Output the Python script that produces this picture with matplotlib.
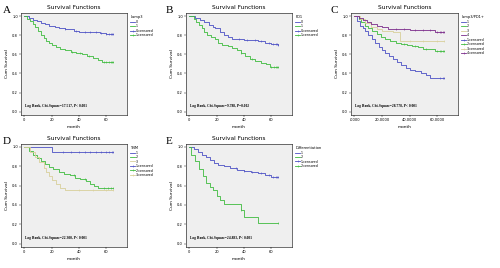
import matplotlib
matplotlib.use('Agg')
import matplotlib.pyplot as plt
import numpy as np

# colours used by the SPSS survival plots
BLUE = '#4b4fc4'
GREEN = '#3dbb3d'
TAN = '#d8cf9a'
PURPLE = '#7a2a8a'

# ---- panel A : Lamp3 ----
a0_t = [0, 3, 6, 9, 12, 15, 18, 22, 25, 30, 36, 40, 55, 60, 65]
a0_s = [1.0, 0.98, 0.96, 0.95, 0.93, 0.92, 0.90, 0.88, 0.87, 0.86, 0.84, 0.83, 0.82, 0.81, 0.81]
a0_c = [30, 38, 44, 48, 52, 56, 60, 62, 63, 64, 65]
a1_t = [0, 2, 4, 6, 8, 10, 12, 14, 16, 18, 20, 23, 26, 30, 34, 38, 42, 46, 50, 54, 57, 65]
a1_s = [1.0, 0.97, 0.95, 0.92, 0.88, 0.84, 0.80, 0.77, 0.74, 0.72, 0.70, 0.68, 0.66, 0.64,
        0.62, 0.61, 0.60, 0.58, 0.56, 0.54, 0.52, 0.52]
a1_c = [35, 41, 47, 58, 60, 62, 63, 64, 65]

# ---- panel B : PD1 ----
b0_t = [0, 4, 8, 11, 14, 17, 19, 22, 25, 28, 31, 40, 50, 55, 60, 65]
b0_s = [1.0, 0.98, 0.96, 0.94, 0.91, 0.89, 0.87, 0.83, 0.80, 0.78, 0.76, 0.75, 0.74, 0.72, 0.71, 0.70]
b0_c = [36, 42, 48, 52, 58, 61, 63, 64, 65]
b1_t = [0, 3, 5, 7, 9, 11, 13, 16, 19, 21, 24, 28, 31, 35, 38, 41, 44, 48, 52, 56, 59, 65]
b1_s = [1.0, 0.97, 0.94, 0.91, 0.87, 0.83, 0.80, 0.78, 0.76, 0.72, 0.70, 0.69, 0.67, 0.64,
        0.61, 0.58, 0.55, 0.53, 0.51, 0.50, 0.47, 0.47]
b1_c = [38, 46, 60, 62, 63, 64, 65]

# ---- panel C : lamp3/PD1+ (4 groups) ----
c1_t = [0, 2, 4, 6, 8, 10, 13, 15, 18, 20, 22, 25, 28, 31, 34, 37, 40, 44, 48, 52, 55, 65]
c1_s = [1.0, 0.95, 0.90, 0.87, 0.84, 0.80, 0.76, 0.72, 0.68, 0.64, 0.61, 0.58, 0.55, 0.52,
        0.49, 0.46, 0.44, 0.42, 0.40, 0.38, 0.35, 0.35]
c1_c = [62, 64, 65]
c2_t = [0, 3, 5, 8, 10, 13, 16, 19, 22, 26, 30, 34, 38, 42, 46, 50, 54, 58, 65]
c2_s = [1.0, 0.97, 0.94, 0.90, 0.87, 0.84, 0.81, 0.78, 0.76, 0.74, 0.72, 0.71, 0.70, 0.69,
        0.68, 0.66, 0.65, 0.63, 0.63]
c2_c = [36, 44, 52, 60, 62, 63, 64, 65]
c3_t = [0, 4, 8, 12, 16, 20, 28, 33, 65]
c3_s = [1.0, 0.97, 0.93, 0.89, 0.86, 0.84, 0.83, 0.74, 0.74]
c3_c = [40, 50, 60, 65]
c4_t = [0, 3, 6, 9, 12, 16, 20, 24, 40, 58, 65]
c4_s = [1.0, 0.98, 0.96, 0.94, 0.92, 0.90, 0.88, 0.86, 0.85, 0.83, 0.83]
c4_c = [30, 36, 44, 50, 55, 60, 62, 63, 64, 65]

# ---- panel D : TNM ----
d1_t = [0, 20, 65]
d1_s = [1.0, 0.95, 0.95]
d1_c = [28, 34, 40, 44, 48, 52, 56, 60, 62, 64, 65]
d2_t = [0, 3, 6, 9, 12, 15, 18, 21, 25, 29, 33, 37, 41, 45, 48, 51, 54, 65]
d2_s = [1.0, 0.96, 0.92, 0.88, 0.85, 0.82, 0.79, 0.77, 0.74, 0.72, 0.71, 0.68, 0.67, 0.65,
        0.62, 0.60, 0.57, 0.57]
d2_c = [36, 44, 58, 61, 63, 65]
d3_t = [0, 4, 8, 11, 14, 16, 18, 20, 23, 26, 30, 65]
d3_s = [1.0, 0.95, 0.89, 0.84, 0.78, 0.74, 0.70, 0.66, 0.62, 0.58, 0.55, 0.55]
d3_c = [40, 50, 60, 65]

# ---- panel E : Differentiation ----
e1_t = [0, 3, 6, 9, 12, 15, 18, 21, 25, 30, 35, 40, 45, 50, 55, 60, 65]
e1_s = [1.0, 0.98, 0.95, 0.92, 0.89, 0.86, 0.83, 0.81, 0.80, 0.78, 0.76, 0.75, 0.74, 0.73,
        0.71, 0.69, 0.69]
e1_c = [34, 40, 46, 52, 58, 61, 63, 64, 65]
e2_t = [0, 1, 4, 7, 10, 12, 15, 17, 20, 22, 25, 38, 40, 50, 65]
e2_s = [1.0, 0.92, 0.85, 0.77, 0.70, 0.63, 0.59, 0.55, 0.49, 0.45, 0.41, 0.35, 0.28, 0.21, 0.21]
e2_c = [38, 65]

panels = [
    ('A', 'Lamp3', 'Log Rank, Chi-Square=17.517, P< 0.001',
     [('0', BLUE, a0_t, a0_s, a0_c), ('1', GREEN, a1_t, a1_s, a1_c)]),
    ('B', 'PD1', 'Log Rank, Chi-Square=9.788, P=0.002',
     [('0', BLUE, b0_t, b0_s, b0_c), ('1', GREEN, b1_t, b1_s, b1_c)]),
    ('C', 'lamp3/PD1+', 'Log Rank, Chi-Square=28.778, P< 0.001',
     [('1', BLUE, c1_t, c1_s, c1_c), ('2', GREEN, c2_t, c2_s, c2_c),
      ('3', TAN, c3_t, c3_s, c3_c), ('4', PURPLE, c4_t, c4_s, c4_c)]),
    ('D', 'TNM', 'Log Rank, Chi-Square=22.300, P< 0.001',
     [('1', BLUE, d1_t, d1_s, d1_c), ('2', GREEN, d2_t, d2_s, d2_c),
      ('3', TAN, d3_t, d3_s, d3_c)]),
    ('E', 'Differentiation', 'Log Rank, Chi-Square=24.883, P< 0.001',
     [('1', BLUE, e1_t, e1_s, e1_c), ('2', GREEN, e2_t, e2_s, e2_c)]),
]

# axes boxes [left, bottom, width, height] in figure fraction
boxes = [
    [0.042, 0.571, 0.212, 0.380],
    [0.372, 0.571, 0.212, 0.380],
    [0.702, 0.571, 0.214, 0.380],
    [0.042, 0.078, 0.212, 0.385],
    [0.372, 0.078, 0.212, 0.385],
]


def surv_at(times, surv, t):
    idx = np.searchsorted(times, t, side='right') - 1
    return np.asarray(surv)[idx]


fig = plt.figure(figsize=(5, 2.68), dpi=100)

for box, (letter, group, stat, series) in zip(boxes, panels):
    ax = fig.add_axes(box)
    ax.set_facecolor('#efefef')
    handles = []
    for name, col, t, s, c in series:
        h, = ax.step(t, s, where='post', color=col, lw=0.6)
        ax.plot(c, surv_at(t, s, c), ls='none', marker='|', ms=1.6, mew=0.4, color=col)
        handles.append((h, name))
    for name, col, t, s, c in series:
        h = ax.plot([], [], color=col, lw=0.6, marker='|', ms=1.6, mew=0.4)[0]
        handles.append((h, name + '-censored'))

    ax.set_xlim(-2.5, 75)
    ax.set_ylim(-0.035, 1.03)
    ax.set_xticks([0, 20, 40, 60])
    if letter == 'C':
        ax.set_xticklabels(['.0000', '20.0000', '40.0000', '60.0000'])
    ax.set_yticks([0.0, 0.2, 0.4, 0.6, 0.8, 1.0])
    ax.set_yticklabels(['0.0', '0.2', '0.4', '0.6', '0.8', '1.0'])
    ax.tick_params(labelsize=2.6, length=1.2, width=0.3, pad=1)
    for sp in ax.spines.values():
        sp.set_linewidth(0.4)
    ax.set_xlabel('month', fontsize=3.2, labelpad=2)
    ax.set_ylabel('Cum Survival', fontsize=3.2, labelpad=2)
    ax.set_title('Survival Functions', fontsize=4.2, pad=3)
    ax.text(0.04, 0.08, stat, transform=ax.transAxes, fontsize=2.6,
            fontweight='bold', family='Liberation Serif')

    leg = ax.legend([h for h, _ in handles], [n for _, n in handles], title=group,
                    loc='upper left', bbox_to_anchor=(1.01, 1.0), frameon=False,
                    fontsize=2.3, title_fontsize=2.6, handlelength=1.4,
                    labelspacing=0.15, borderaxespad=0.3, handletextpad=0.4)
    leg._legend_box.align = 'left'

    x0 = box[0] - 0.04
    fig.text(max(x0, 0.005), box[1] + box[3] + 0.01, letter, fontsize=8,
             family='Liberation Serif', va='center')

fig.savefig('out.png', dpi=100, facecolor='white')
